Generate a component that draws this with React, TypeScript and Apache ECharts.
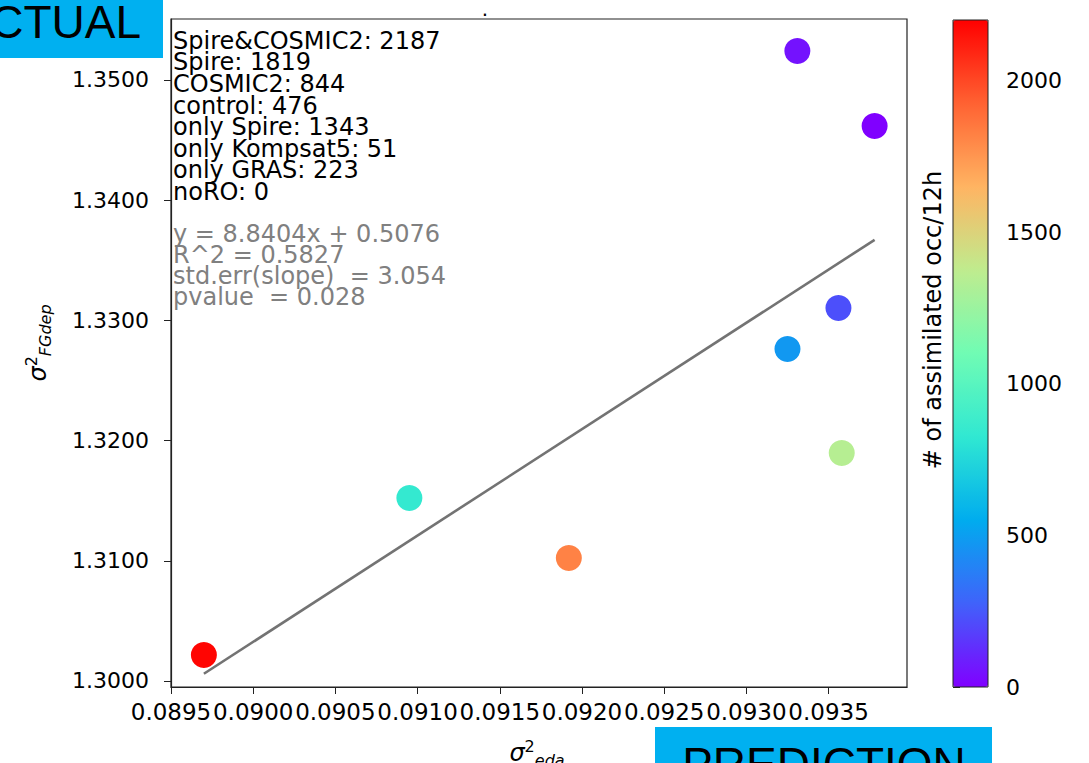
import React, { useEffect, useRef } from "react";
import * as echarts from "echarts";

// ---- data ----
const EXPERIMENTS = ["Spire&COSMIC2", "Spire", "COSMIC2", "control", "only Spire", "only Kompsat5", "only GRAS", "noRO"];
const OCC_COUNTS = [2187, 1819, 844, 476, 1343, 51, 223, 0];
const SIGMA_EDA = [0.0897, 0.09192, 0.09095, 0.09325, 0.09358, 0.09331, 0.09356, 0.09378];
const SIGMA_FGDEP = [1.30216, 1.31023, 1.31522, 1.32762, 1.31897, 1.35241, 1.33103, 1.34617];

// regression line end points
const FIT_X = [0.0897, 0.09378];
const FIT_Y = [1.3006, 1.3367];
const FIT_TEXT = ["y = 8.8404x + 0.5076", "R^2 = 0.5827", "std.err(slope)  = 3.054", "pvalue  = 0.028"];

// tick labels
const X_TICKS = [0.0895, 0.09, 0.0905, 0.091, 0.0915, 0.092, 0.0925, 0.093, 0.0935];
const Y_TICKS = [1.3, 1.31, 1.32, 1.33, 1.34, 1.35];
const CB_TICKS = [0, 500, 1000, 1500, 2000];

// matplotlib "rainbow" colormap samples
const RAINBOW = ["#8000ff", "#4062fa", "#00acee", "#30e8d2", "#70fcb4", "#bfec8e", "#ffb462", "#ff6232", "#ff0000"];

const FONT = "DejaVu Sans";
const ARIAL = "Liberation Sans";

export default function App() {
  const ref = useRef<HTMLDivElement>(null);

  useEffect(() => {
    document.body.style.margin = "0";
    document.body.style.overflow = "hidden";
    const chart = echarts.init(ref.current!, null, { renderer: "svg" });

    const scatterData = SIGMA_EDA.map((x, i) => [x, SIGMA_FGDEP[i], OCC_COUNTS[i]]);
    const fitData = FIT_X.map((x, i) => [x, FIT_Y[i]]);
    const legendText = EXPERIMENTS.map((n, i) => `${n}: ${OCC_COUNTS[i]}`).join("\n");

    const axisColor = "#222";

    const option: any = {
      animation: false,
      backgroundColor: "#fff",
      grid: [
        { left: 171, top: 19, width: 736, height: 668, show: true, borderColor: axisColor, borderWidth: 1.2, backgroundColor: "transparent" },
        { left: 953, top: 20, width: 35, height: 667, show: false },
      ],
      xAxis: [
        {
          type: "value",
          gridIndex: 0,
          min: 0.0895,
          max: 0.093977,
          interval: 0.0005,
          splitLine: { show: false },
          axisLine: { show: true, onZero: false, lineStyle: { color: axisColor, width: 1.2 } },
          axisTick: { show: true, length: 7, lineStyle: { color: axisColor }, customValues: X_TICKS },
          axisLabel: {
            customValues: X_TICKS,
            color: "#000",
            fontFamily: FONT,
            fontSize: 23,
            margin: 13,
            formatter: (v: number) => v.toFixed(4),
          },
        },
        { type: "value", gridIndex: 1, show: false, min: 0, max: 1 },
      ],
      yAxis: [
        {
          type: "value",
          gridIndex: 0,
          min: 1.2995,
          max: 1.35507,
          splitLine: { show: false },
          axisLine: { show: true, onZero: false, lineStyle: { color: axisColor, width: 1.2 } },
          axisTick: { show: true, length: 7, lineStyle: { color: axisColor }, customValues: Y_TICKS },
          axisLabel: {
            customValues: Y_TICKS,
            color: "#000",
            fontFamily: FONT,
            fontSize: 22,
            margin: 22,
            formatter: (v: number) => v.toFixed(4),
          },
        },
        {
          type: "value",
          gridIndex: 1,
          position: "right",
          min: 0,
          max: 2200,
          splitLine: { show: false },
          axisLine: { show: false },
          axisTick: { show: true, length: 7, lineStyle: { color: axisColor }, customValues: CB_TICKS },
          axisLabel: {
            customValues: CB_TICKS,
            color: "#000",
            fontFamily: FONT,
            fontSize: 22,
            margin: 18,
            formatter: (v: number) => String(Math.round(v)),
          },
        },
      ],
      visualMap: {
        type: "continuous",
        seriesIndex: 0,
        dimension: 2,
        min: 0,
        max: 2200,
        left: 953,
        top: 20,
        itemWidth: 35,
        itemHeight: 667,
        padding: 0,
        calculable: false,
        hoverLink: false,
        text: null,
        showLabel: false,
        inRange: { color: RAINBOW },
      },
      series: [
        {
          type: "scatter",
          xAxisIndex: 0,
          yAxisIndex: 0,
          data: scatterData,
          symbolSize: 26,
          itemStyle: { opacity: 1 },
          z: 3,
        },
        {
          type: "line",
          xAxisIndex: 0,
          yAxisIndex: 0,
          data: fitData,
          showSymbol: false,
          symbol: "none",
          lineStyle: { color: "#737373", width: 2.6 },
          z: 2,
        },
      ],
      graphic: [
        // colorbar border
        { type: "rect", shape: { x: 953, y: 20, width: 35, height: 667 }, style: { fill: "none", stroke: axisColor, lineWidth: 1 }, z: 100 },
        // legend text
        {
          type: "text",
          x: 173,
          y: 30,
          z: 50,
          style: { text: legendText, fill: "#000", fontFamily: FONT, fontSize: 24, lineHeight: 21.6, align: "left", verticalAlign: "top", textAlign: "left", textVerticalAlign: "top" },
        },
        {
          type: "text",
          x: 173,
          y: 223.5,
          z: 50,
          style: { text: FIT_TEXT.join("\n"), fill: "#808080", fontFamily: FONT, fontSize: 24, lineHeight: 21, align: "left", verticalAlign: "top", textAlign: "left", textVerticalAlign: "top" },
        },
        // title dot
        {
          type: "text",
          x: 485,
          y: 19,
          style: { text: ".", fill: "#000", fontFamily: FONT, fontSize: 20, align: "center", verticalAlign: "bottom", textAlign: "center", textVerticalAlign: "bottom" },
        },
        // y axis title
        {
          type: "text",
          x: 38,
          y: 343,
          rotation: Math.PI / 2,
          style: {
            text: "{s|σ}{p|2}{b|FGdep}",
            align: "center",
            verticalAlign: "middle",
            textAlign: "center",
            textVerticalAlign: "middle",
            rich: {
              s: { fontFamily: FONT, fontSize: 24, fontStyle: "italic", fill: "#000", lineHeight: 30, verticalAlign: "middle" },
              p: { fontFamily: FONT, fontSize: 16, fill: "#000", lineHeight: 16, verticalAlign: "top" },
              b: { fontFamily: FONT, fontSize: 16, fontStyle: "italic", fill: "#000", lineHeight: 20, verticalAlign: "bottom" },
            },
          },
        },
        // x axis title
        {
          type: "text",
          x: 537,
          y: 753,
          style: {
            text: "{s|σ}{p|2}{b|eda}",
            align: "center",
            verticalAlign: "middle",
            textAlign: "center",
            textVerticalAlign: "middle",
            rich: {
              s: { fontFamily: FONT, fontSize: 24, fontStyle: "italic", fill: "#000", lineHeight: 30, verticalAlign: "middle" },
              p: { fontFamily: FONT, fontSize: 16, fill: "#000", lineHeight: 16, verticalAlign: "top" },
              b: { fontFamily: FONT, fontSize: 16, fontStyle: "italic", fill: "#000", lineHeight: 20, verticalAlign: "bottom" },
            },
          },
        },
        // colorbar label
        {
          type: "text",
          x: 933,
          y: 320,
          rotation: Math.PI / 2,
          style: { text: "# of assimilated occ/12h", fill: "#000", fontFamily: FONT, fontSize: 24, align: "center", verticalAlign: "middle", textAlign: "center", textVerticalAlign: "middle" },
        },
        // ACTUAL box
        { type: "rect", shape: { x: 0, y: 0, width: 163, height: 58 }, style: { fill: "#00b0f0" }, z: 60 },
        {
          type: "text",
          x: 141,
          y: 22,
          z: 61,
          style: { text: "ACTUAL", fill: "#000", fontFamily: ARIAL, fontSize: 46, align: "right", verticalAlign: "middle", textAlign: "right", textVerticalAlign: "middle" },
        },
        // PREDICTION box
        { type: "rect", shape: { x: 655, y: 727, width: 337, height: 40 }, style: { fill: "#00b0f0" }, z: 60 },
        {
          type: "text",
          x: 824,
          y: 764,
          z: 61,
          style: { text: "PREDICTION", fill: "#000", fontFamily: ARIAL, fontSize: 46, align: "center", verticalAlign: "middle", textAlign: "center", textVerticalAlign: "middle" },
        },
      ],
    };

    chart.setOption(option);
    return () => chart.dispose();
  }, []);

  return <div ref={ref} style={{ position: "absolute", left: 0, top: 0, width: 1089, height: 763 }} />;
}
